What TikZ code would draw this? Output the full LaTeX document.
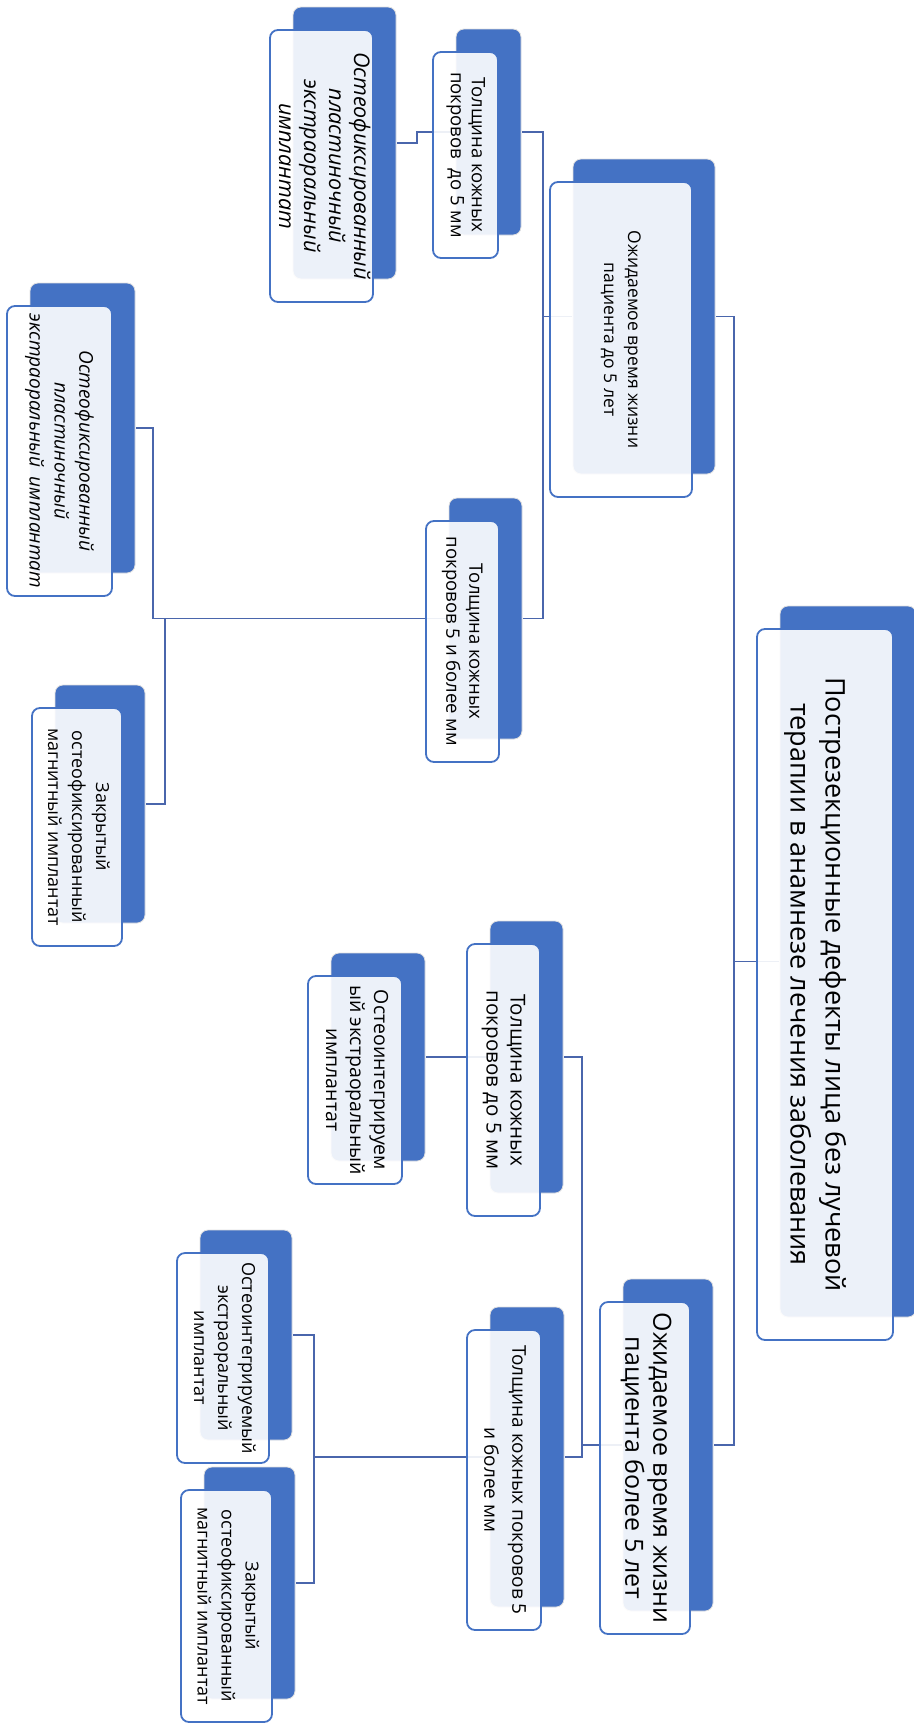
\documentclass[tikz,border=0pt]{standalone}
\usepackage{fontspec}
\setmainfont{Open Sans}
\usepackage{graphicx}
\usetikzlibrary{shadows,backgrounds}

\definecolor{cardblue}{HTML}{4472C4}
\definecolor{linkblue}{HTML}{4A66AC}

% text turned to read from top to bottom
\newcommand{\vtxt}[1]{\rotatebox{-90}{\begin{tabular}{@{}c@{}}#1\end{tabular}}}
\newcommand{\fs}[2]{\fontsize{#1}{#2}\selectfont}
\def\sh{23pt}

\begin{document}
\begin{tikzpicture}[x=1pt,y=-1pt,
    card/.style={draw=cardblue, line width=1.8pt, rounded corners=8pt,
        fill=white, fill opacity=0.9, text opacity=1, inner sep=0pt,
        copy shadow={shadow xshift=\sh, shadow yshift=\sh, fill=cardblue,
            fill opacity=1, draw=black!12, line width=0.8pt}},
    link/.style={draw=linkblue, line width=1.6pt}]
    \useasboundingbox (0,0) rectangle (913,1724);

    % root
    \node[card, minimum width=136pt, minimum height=711pt, font=\fs{27}{35}] (root) at (825,984.5)
        {\vtxt{Пострезекционные дефекты лица без лучевой\\терапии в анамнезе лечения заболевания}\hspace*{20pt}};

    % expected life time
    \node[card, minimum width=142pt, minimum height=315pt, font=\fs{17.5}{24}] (lifeA) at (621,339.5)
        {\vtxt{Ожидаемое время жизни\\пациента до 5 лет}};
    \node[card, minimum width=90pt, minimum height=332pt, font=\fs{25}{28}] (lifeB) at (645,1468)
        {\vtxt{Ожидаемое время жизни\\пациента более 5 лет}};

    % skin thickness
    \node[card, minimum width=65pt, minimum height=206pt, font=\fs{18.5}{21}] (skinA1) at (465.5,155)
        {\vtxt{Толщина кожных\\покровов\ \ до 5 мм}};
    \node[card, minimum width=73pt, minimum height=241pt, font=\fs{18.5}{23}] (skinA2) at (462.5,641.5)
        {\vtxt{Толщина кожных\\покровов 5 и более мм}};
    \node[card, minimum width=73pt, minimum height=272pt, font=\fs{20.5}{24}] (skinB1) at (503.5,1080)
        {\vtxt{Толщина кожных\\покровов до 5 мм}};
    \node[card, minimum width=74pt, minimum height=300pt, font=\fs{19}{28}] (skinB2) at (504,1480)
        {\vtxt{Толщина кожных покровов 5\\и более мм}};

    % implants
    \node[card, minimum width=103pt, minimum height=272pt, font=\fs{21.5}{25}\itshape] (impA11) at (321.5,166)
        {\vtxt{Остеофиксированный\\пластиночный\\экстраоральный\\имплантат}};
    \node[card, minimum width=105pt, minimum height=290pt, font=\fs{19}{25}\itshape] (impA21) at (59.5,451)
        {\vtxt{Остеофиксированный\\пластиночный\\экстраоральный\ \ имплантат}};
    \node[card, minimum width=90pt, minimum height=238pt, font=\fs{18}{24}] (impA22) at (77,827)
        {\vtxt{Закрытый\\остеофиксированный\\магнитный имплантат}};
    \node[card, minimum width=94pt, minimum height=208pt, font=\fs{19.5}{24}] (impB11) at (355,1080)
        {\vtxt{Остеоинтегрируем\\ый экстраоральный\\имплантат}};
    \node[card, minimum width=92pt, minimum height=210pt, font=\fs{18}{24}] (impB21) at (223,1358)
        {\vtxt{Остеоинтегрируемый\\экстраоральный\\имплантат}};
    \node[card, minimum width=91pt, minimum height=232pt, font=\fs{18}{24}] (impB22) at (226.5,1606)
        {\vtxt{Закрытый\\остеофиксированный\\магнитный имплантат}};

    % connectors, under the cards
    \begin{scope}[on background layer]
        \draw[link] ([shift={(\sh,\sh)}]root.west) -- ++(-45,0) |- ([shift={(\sh,\sh)}]lifeA.east);
        \draw[link] ([shift={(\sh,\sh)}]root.west) -- ++(-45,0) |- ([shift={(\sh,\sh)}]lifeB.east);
        \draw[link] ([shift={(\sh,\sh)}]lifeA.west) -- ++(-29,0) |- ([shift={(\sh,\sh)}]skinA1.east);
        \draw[link] ([shift={(\sh,\sh)}]lifeA.west) -- ++(-29,0) |- ([shift={(\sh,\sh)}]skinA2.east);
        \draw[link] ([shift={(\sh,\sh)}]lifeB.west) -- ++(-40,0) |- ([shift={(\sh,\sh)}]skinB1.east);
        \draw[link] ([shift={(\sh,\sh)}]lifeB.west) -- ++(-40,0) |- ([shift={(\sh,\sh)}]skinB2.east);
        \draw[link] ([shift={(\sh,\sh)}]skinA1.west) -- ++(-38,0) |- ([shift={(\sh,\sh)}]impA11.east);
        \draw[link] ([shift={(\sh,\sh)}]skinA2.west) -- ++(-295,0) |- ([shift={(\sh,\sh)}]impA21.east);
        \draw[link] ([shift={(\sh,\sh)}]skinA2.west) -- ++(-283,0) |- ([shift={(\sh,\sh)}]impA22.east);
        \draw[link] ([shift={(\sh,\sh)}]skinB1.west) -- ([shift={(\sh,\sh)}]impB11.east);
        \draw[link] ([shift={(\sh,\sh)}]skinB2.west) -- ++(-175,0) |- ([shift={(\sh,\sh)}]impB21.east);
        \draw[link] ([shift={(\sh,\sh)}]skinB2.west) -- ++(-175,0) |- ([shift={(\sh,\sh)}]impB22.east);
    \end{scope}
\end{tikzpicture}
\end{document}
